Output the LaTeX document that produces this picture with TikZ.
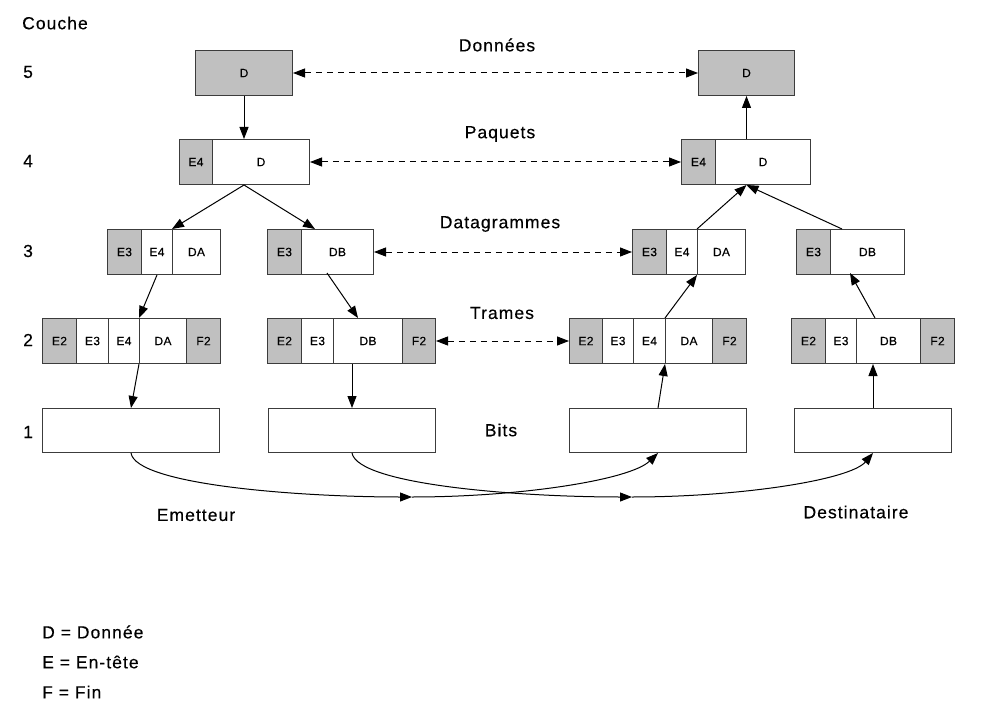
\documentclass[tikz,border=0pt]{standalone}
\usepackage{fontspec}
\newfontfamily\labfont[LetterSpace=6,FakeBold=0.35]{Liberation Sans}
\newfontfamily\cellfont[LetterSpace=3,FakeBold=0.3]{Liberation Sans}
\usetikzlibrary{arrows.meta}
\definecolor{hdrgray}{RGB}{192,192,192}
\definecolor{edge}{RGB}{60,60,60}
\tikzset{
  cell/.style={draw=edge, line width=1pt, fill=white, minimum height=45pt, inner sep=0pt,
    anchor=north west, font=\cellfont\fontsize{12}{14}\selectfont},
  hcell/.style={cell, fill=hdrgray},
  lab/.style={inner sep=0pt, font=\labfont\fontsize{17.5}{20}\selectfont},
  arr/.style={line width=1pt, -{Triangle[length=12pt,width=9pt]}},
  darr/.style={line width=1pt, dash pattern=on 6pt off 5pt, {Triangle[length=12pt,width=9pt]}-{Triangle[length=12pt,width=9pt]}},
}
\begin{document}
\begin{tikzpicture}[x=1pt,y=-1pt]
\useasboundingbox (0,0) rectangle (990,714);
% layer labels
\node[lab, anchor=west] (couche) at (22,23) {Couche};
\node[lab, anchor=west] (n5) at (23,72) {5};
\node[lab, anchor=west] (n4) at (23,161) {4};
\node[lab, anchor=west] (n3) at (23,251) {3};
\node[lab, anchor=west] (n2) at (23,340) {2};
\node[lab, anchor=west] (n1) at (23,432) {1};
% level names
\node[lab] (tdon) at (497,45) {Données};
\node[lab] (tpaq) at (500,134) {Paquets};
\node[lab] (tdat) at (500,224) {Datagrammes};
\node[lab] (ttra) at (502,313) {Trames};
\node[lab] (tbit) at (501,430) {Bits};
\node[lab] (temi) at (196,515) {Emetteur};
\node[lab] (tdes) at (856,512) {Destinataire};
% legend
\node[lab, anchor=west] (lg1) at (42,632) {D = Donnée};
\node[lab, anchor=west] (lg2) at (42,662) {E = En-tête};
\node[lab, anchor=west] (lg3) at (42,692) {F = Fin};

% ===== layer 5
\node[hcell, minimum width=97pt] (l5L) at (195,50) {D};
\node[hcell, minimum width=96pt] (l5R) at (698,50) {D};
% ===== layer 4
\node[hcell, minimum width=33pt] (l4Le) at (179,139) {E4};
\node[cell, minimum width=97pt] (l4Ld) at (212,139) {D};
\node[hcell, minimum width=34pt] (l4Re) at (681,139) {E4};
\node[cell, minimum width=95pt] (l4Rd) at (715,139) {D};
% ===== layer 3
\node[hcell, minimum width=34pt] (l3La1) at (107,229) {E3};
\node[cell, minimum width=31pt] (l3La2) at (141,229) {E4};
\node[cell, minimum width=48pt] (l3La3) at (172,229) {DA};
\node[hcell, minimum width=34pt] (l3Lb1) at (267,229) {E3};
\node[cell, minimum width=72pt] (l3Lb2) at (301,229) {DB};
\node[hcell, minimum width=34pt] (l3Ra1) at (632,229) {E3};
\node[cell, minimum width=31pt] (l3Ra2) at (666,229) {E4};
\node[cell, minimum width=48pt] (l3Ra3) at (697,229) {DA};
\node[hcell, minimum width=34pt] (l3Rb1) at (796,229) {E3};
\node[cell, minimum width=74pt] (l3Rb2) at (830,229) {DB};
% ===== layer 2
\node[hcell, minimum width=34pt] (l2La1) at (42,318) {E2};
\node[cell, minimum width=32pt] (l2La2) at (76,318) {E3};
\node[cell, minimum width=31pt] (l2La3) at (108,318) {E4};
\node[cell, minimum width=47pt] (l2La4) at (139,318) {DA};
\node[hcell, minimum width=34pt] (l2La5) at (186,318) {F2};
\node[hcell, minimum width=34pt] (l2Lb1) at (267,318) {E2};
\node[cell, minimum width=32pt] (l2Lb2) at (301,318) {E3};
\node[cell, minimum width=69pt] (l2Lb3) at (333,318) {DB};
\node[hcell, minimum width=33pt] (l2Lb4) at (402,318) {F2};
\node[hcell, minimum width=33pt] (l2Ra1) at (569,318) {E2};
\node[cell, minimum width=31pt] (l2Ra2) at (602,318) {E3};
\node[cell, minimum width=32pt] (l2Ra3) at (633,318) {E4};
\node[cell, minimum width=47pt] (l2Ra4) at (665,318) {DA};
\node[hcell, minimum width=34pt] (l2Ra5) at (712,318) {F2};
\node[hcell, minimum width=34pt] (l2Rb1) at (791,318) {E2};
\node[cell, minimum width=31pt] (l2Rb2) at (825,318) {E3};
\node[cell, minimum width=64pt] (l2Rb3) at (856,318) {DB};
\node[hcell, minimum width=34pt] (l2Rb4) at (920,318) {F2};
% ===== layer 1
\node[cell, minimum width=177pt, minimum height=44pt] (l1a) at (42,408) {};
\node[cell, minimum width=167pt, minimum height=44pt] (l1b) at (268,408) {};
\node[cell, minimum width=177pt, minimum height=44pt] (l1c) at (569,408) {};
\node[cell, minimum width=157pt, minimum height=44pt] (l1d) at (794,408) {};

% helper coordinates
\coordinate (s4L) at (l5L.south |- l4Ld.south);
\coordinate (s4R) at (l5R.south |- l4Rd.south);
\coordinate (t3Lb) at (315,229);
\coordinate (s3Lb) at (327,273);
\coordinate (t2Lb) at (358,318);
\coordinate (s2Rb) at (875,318);
\coordinate (t3Rb) at (850,273);
\coordinate (s3Rb) at (842,229);
\coordinate (m1) at (412,497);
\coordinate (m2) at (632,497);

% sender side
\draw[arr] (l5L.south) -- (l5L.south |- l4Ld.north);
\draw[arr] (s4L) -- (l3La3.north west);
\draw[arr] (s4L) -- (t3Lb);
\draw[arr] (l3La2.south) -- (l2La4.north west);
\draw[arr] (s3Lb) -- (t2Lb);
\draw[arr] (l2La4.south west) -- (l1a.north);
\draw[arr] (l1b.north |- l2Lb3.south) -- (l1b.north);
% receiver side
\draw[arr] (l1c.north) -- (l2Ra4.south west);
\draw[arr] (l1d.north) -- (l1d.north |- l2Rb3.south);
\draw[arr] (l2Ra4.north west) -- (l3Ra3.south west);
\draw[arr] (s2Rb) -- (t3Rb);
\draw[arr] (l3Ra3.north west) -- (s4R);
\draw[arr] (s3Rb) -- (s4R);
\draw[arr] (l5R.south |- l4Rd.north) -- (l5R.south);
% peer dashed arrows
\draw[darr] (l5L.east) -- (l5R.west);
\draw[darr] (l4Ld.east) -- (l4Re.west);
\draw[darr] (l3Lb2.east) -- (l3Ra1.west);
\draw[darr] (l2Lb4.east) -- (l2Ra1.west);
% bit transmission curves
\draw[arr] (l1a.south) .. controls (136,485) and (300,497) .. (m1);
\draw[arr] (m1) .. controls (520,497) and (630,480) .. (l1c.south);
\draw[arr] (l1b.south) .. controls (358,485) and (520,497) .. (m2);
\draw[arr] (m2) .. controls (740,497) and (850,480) .. (l1d.south);
\end{tikzpicture}
\end{document}
